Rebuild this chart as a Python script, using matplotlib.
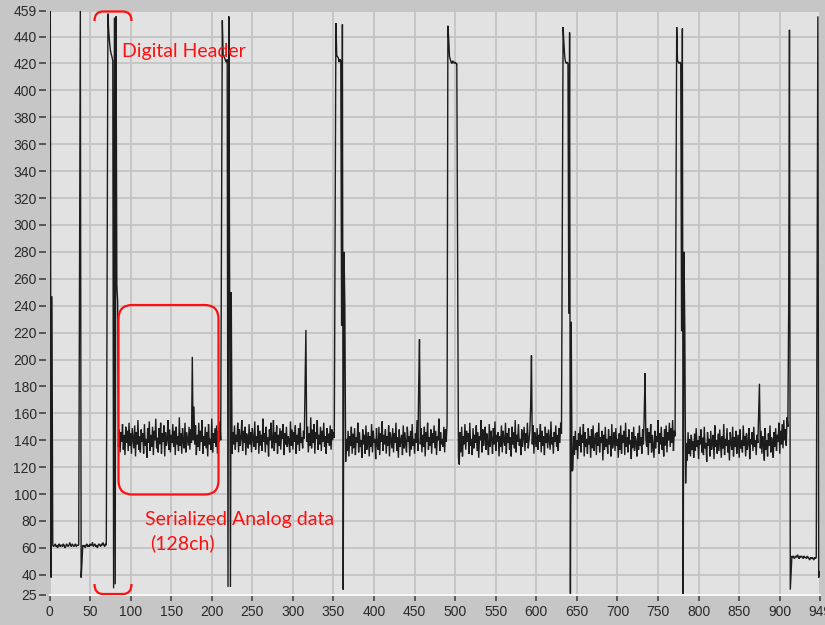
import numpy as np
import matplotlib
matplotlib.use("Agg")
import matplotlib.pyplot as plt
from matplotlib.path import Path
from matplotlib.patches import PathPatch, FancyBboxPatch
from matplotlib.transforms import Affine2D

# ---------------- data ----------------
lead = ([62, 459, 38, 247, 62] +
        [61, 62, 63, 61, 62, 60, 62, 63, 61, 62, 62, 61, 63, 62, 60, 61,
         63, 62, 61, 62, 64, 62, 61, 63, 62, 61, 62, 63, 61, 62, 62] +
        [62, 260, 459, 38, 49, 62] +
        [61, 62, 60, 62, 63, 61, 62, 61, 63, 62, 62, 64, 61, 62, 63, 61,
         62, 60, 62, 63, 62, 61, 63, 62, 64, 62, 61, 63, 62])

header1 = [260, 457, 444, 436, 430, 427, 425, 422, 30, 454, 33, 455, 255, 243]
header2 = [304, 452, 426, 425, 424, 422, 421, 423, 31, 455, 261, 31, 250]
header3 = [302, 450, 426, 425, 424, 421, 423, 422, 225, 449, 29, 280, 240]
header4 = [448, 438, 425, 423, 421, 420, 422, 421, 420, 421, 420, 420, 268, 127]
header5 = [302, 447, 435, 425, 421, 420, 421, 420, 234, 443, 26, 228, 117]
header6 = [301, 447, 422, 421, 420, 421, 420, 221, 446, 25, 280, 222]

analog1 = [135, 148, 131, 146, 139, 152, 133, 144, 129, 150,
           138, 147, 132, 153, 136, 145, 130, 149, 141, 134,
           151, 128, 146, 137, 155, 133, 143, 131, 148, 139,
           145, 130, 152, 136, 141, 127, 149, 138, 154, 132,
           144, 135, 150, 129, 147, 140, 156, 134, 142, 131,
           149, 137, 153, 130, 145, 139, 151, 128, 146, 136,
           140, 155, 133, 148, 131, 144, 138, 152, 135, 147,
           129, 150, 137, 143, 132, 157, 136, 145, 130, 149,
           139, 134, 153, 131, 146, 141, 136, 150, 133, 148,
           138, 202, 140, 165, 137, 151, 129, 144, 135, 153,
           132, 147, 139, 155, 130, 143, 136, 150, 134, 146,
           128, 152, 137, 141, 133, 156, 131, 145, 138, 149,
           135, 151, 130, 147, 139, 154, 140]
analog2 = [130, 146, 137, 151, 133, 144, 139, 153, 131, 148,
           136, 142, 155, 132, 147, 138, 150, 129, 145, 140,
           134, 152, 137, 146, 131, 149, 141, 135, 154, 133,
           143, 138, 151, 130, 147, 136, 144, 132, 156, 139,
           145, 131, 150, 137, 142, 128, 148, 140, 153, 134,
           139, 155, 132, 146, 138, 151, 130, 144, 136, 149,
           133, 147, 141, 152, 129, 145, 137, 150, 135, 143,
           140, 131, 154, 136, 148, 133, 146, 139, 151, 130,
           144, 137, 149, 132, 153, 138, 142, 134, 147, 141,
           183, 222, 139, 150, 131, 145, 136, 157, 134, 148,
           138, 152, 130, 146, 141, 155, 133, 144, 137, 150,
           132, 147, 139, 153, 135, 143, 130, 149, 138, 145,
           136, 151, 133, 148, 140, 146, 142]
analog3 = [124, 141, 132, 147, 128, 143, 136, 150, 130, 145,
           134, 149, 129, 142, 138, 153, 131, 146, 135, 140,
           127, 148, 137, 144, 130, 151, 133, 139, 146, 128,
           143, 135, 152, 131, 147, 138, 141, 126, 149, 136,
           133, 150, 129, 145, 139, 154, 132, 144, 137, 148,
           130, 143, 136, 151, 128, 146, 140, 134, 149, 131,
           145, 138, 153, 132, 142, 127, 148, 135, 140, 144,
           129, 151, 134, 146, 137, 131, 150, 139, 143, 128,
           147, 133, 152, 136, 141, 130, 145, 138, 155, 132,
           180, 215, 137, 149, 131, 144, 135, 150, 128, 146,
           139, 153, 133, 142, 136, 148, 130, 145, 138, 151,
           134, 147, 129, 143, 140, 156, 132, 146, 137, 141,
           135, 150, 131, 148, 139, 152]
analog4 = [122, 146, 131, 150, 128, 143, 137, 152, 133, 147,
           139, 145, 130, 153, 136, 141, 129, 149, 134, 144,
           138, 151, 132, 146, 127, 143, 140, 155, 131, 148,
           136, 142, 150, 133, 145, 138, 129, 152, 135, 147,
           141, 130, 149, 137, 154, 132, 144, 139, 146, 128,
           143, 135, 151, 131, 147, 140, 136, 153, 130, 145,
           138, 149, 133, 142, 128, 150, 137, 146, 134, 155,
           131, 144, 139, 152, 136, 141, 129, 148, 135, 143,
           150, 132, 145, 138, 153, 134, 140, 147, 165, 203,
           137, 151, 130, 146, 141, 135, 149, 133, 144, 139,
           152, 131, 147, 136, 143, 129, 150, 138, 145, 134,
           148, 140, 133, 154, 137, 142, 130, 146, 139, 151,
           135, 144, 132, 149, 138, 153, 145]
analog5 = [118, 143, 129, 147, 133, 140, 126, 145, 136, 150,
           131, 144, 138, 152, 128, 146, 135, 141, 130, 149,
           137, 143, 127, 148, 134, 151, 132, 140, 145, 129,
           146, 136, 153, 131, 142, 138, 147, 125, 144, 133,
           150, 135, 141, 130, 148, 137, 143, 128, 152, 134,
           139, 146, 132, 149, 136, 141, 127, 145, 133, 151,
           130, 144, 138, 147, 129, 153, 135, 142, 131, 148,
           137, 140, 126, 146, 134, 150, 132, 143, 139, 128,
           145, 133, 151, 136, 142, 130, 148, 137, 160, 190,
           141, 135, 149, 129, 146, 138, 152, 131, 144, 136,
           127, 147, 134, 143, 139, 155, 130, 145, 137, 150,
           133, 142, 128, 148, 136, 151, 131, 146, 140, 153,
           135, 149, 138, 155, 132, 147, 143]
analog6 = [108, 138, 125, 146, 130, 141, 128, 144, 133, 139,
           127, 145, 132, 149, 135, 140, 126, 143, 137, 148,
           131, 142, 129, 150, 134, 138, 124, 146, 136, 141,
           128, 147, 133, 139, 144, 126, 151, 135, 140, 130,
           145, 132, 148, 137, 127, 143, 134, 152, 129, 141,
           136, 149, 131, 140, 125, 146, 138, 133, 150, 128,
           142, 135, 147, 130, 139, 144, 127, 148, 134, 140,
           131, 151, 136, 143, 128, 145, 133, 138, 149, 126,
           141, 137, 146, 132, 150, 135, 140, 129, 144, 138,
           160, 182, 134, 147, 130, 143, 137, 125, 149, 133,
           140, 128, 145, 136, 151, 131, 142, 138, 127, 146,
           135, 149, 132, 144, 139, 153, 130, 147, 137, 152,
           134, 155, 140, 148, 136, 157, 150]

tail = ([237, 445, 29, 42] +
        [54, 53, 54, 52, 53, 54, 53, 55, 53, 52, 54, 53, 54, 53, 52, 54,
         53, 53, 52, 54, 53, 52, 51, 53, 52, 53, 52, 51, 53, 52, 53] +
        [251, 455, 38, 42])

x_ticks = [0, 50, 100, 150, 200, 250, 300, 350, 400, 450, 500, 550, 600,
           650, 700, 750, 800, 850, 900, 949]
y_ticks = [25, 40, 60, 80, 100, 120, 140, 160, 180, 200, 220, 240, 260, 280,
           300, 320, 340, 360, 380, 400, 420, 440, 459]

signal = np.array(lead + header1 + analog1 + header2 + analog2 + header3 +
                  analog3 + header4 + analog4 + header5 + analog5 + header6 +
                  analog6 + tail, dtype=float)
samples = np.arange(len(signal))

# ---------------- figure ----------------
W, H = 825, 625
fig = plt.figure(figsize=(W / 100, H / 100), dpi=100)
fig.patch.set_facecolor("#c6c6c6")

left_px, right_px, top_px, bot_px = 49.5, 819.5, 11.0, 595.0
ax = fig.add_axes([left_px / W, 1 - bot_px / H,
                   (right_px - left_px) / W, (bot_px - top_px) / H])
ax.set_facecolor("#e2e2e2")

ax.plot(samples, signal, color="#1c1c1c", lw=1.0, solid_joinstyle="miter")

ax.set_xlim(0, 949)
ax.set_ylim(25, 459)
ax.set_xticks(x_ticks)
ax.set_yticks(y_ticks)
ax.set_xticklabels([str(v) for v in x_ticks])
ax.set_yticklabels([str(v) for v in y_ticks])

ax.grid(True, color="#c4c4c4", lw=1.3)
ax.set_axisbelow(True)

for s in ["top", "right"]:
    ax.spines[s].set_visible(False)
ax.spines["left"].set_position(("outward", 2.2))
ax.spines["left"].set_color("none")
ax.spines["bottom"].set_position(("outward", 0))
ax.spines["bottom"].set_color("#f6f6f6")
ax.spines["bottom"].set_linewidth(1.5)

tick_font = dict(family=["Liberation Sans", "DejaVu Sans"], size=10)
ax.tick_params(axis="y", direction="out", length=5.2, width=1.1,
               color="#3a3a3a", pad=1.8, labelcolor="#2a2a2a")
ax.tick_params(axis="x", direction="out", length=4.3, width=1.1,
               color="#3a3a3a", pad=3.0, labelcolor="#2a2a2a")
for lab in ax.get_xticklabels() + ax.get_yticklabels():
    lab.set_fontfamily(tick_font["family"])
    lab.set_fontsize(tick_font["size"])

# ---------------- red annotations (pixel-based placement) ----------------
px = Affine2D().scale(1 / W, -1 / H).translate(0, 1) + fig.transFigure
red = "#ff1010"

top_br = Path([(94.5, 21), (94.5, 11.5), (103, 11.5), (123, 11.5),
               (131.5, 11.5), (131.5, 21)],
              [Path.MOVETO, Path.CURVE3, Path.CURVE3, Path.LINETO,
               Path.CURVE3, Path.CURVE3])
bot_br = Path([(94.5, 584), (94.5, 594), (103, 594), (123, 594),
               (131.5, 594), (131.5, 584)],
              [Path.MOVETO, Path.CURVE3, Path.CURVE3, Path.LINETO,
               Path.CURVE3, Path.CURVE3])
for p in (top_br, bot_br):
    fig.patches.append(PathPatch(p, transform=px, fill=False, edgecolor=red,
                                 lw=1.6, clip_on=False, zorder=10))

box = FancyBboxPatch((118.5, 305), 100, 189.5,
                     boxstyle="round,pad=0,rounding_size=14",
                     transform=px, fill=False, edgecolor=red, lw=1.6,
                     clip_on=False, zorder=10)
fig.patches.append(box)

ann_font = ["Lato", "DejaVu Sans"]
fig.text(122 / W, 1 - 56.5 / H, "Digital Header", color=red, fontsize=14,
         family=ann_font, va="baseline", ha="left")
fig.text(145 / W, 1 - 525.5 / H, "Serialized Analog data", color=red,
         fontsize=14, family=ann_font, va="baseline", ha="left")
fig.text(150 / W, 1 - 549.5 / H, "(128ch)", color=red, fontsize=14,
         family=ann_font, va="baseline", ha="left")

fig.savefig("out.png", dpi=100, facecolor=fig.get_facecolor())
